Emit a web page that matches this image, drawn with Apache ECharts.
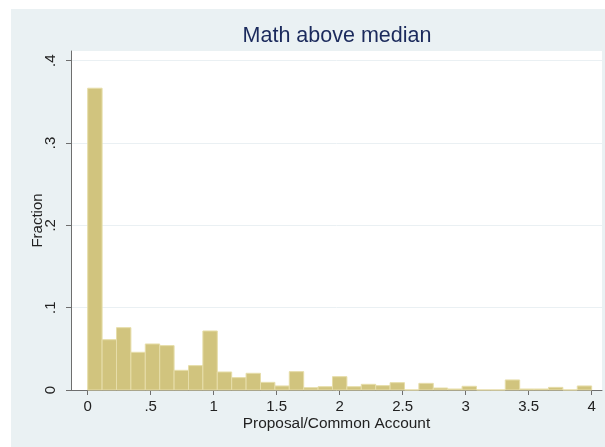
<!DOCTYPE html>
<html>
<head>
<meta charset="utf-8">
<script src="https://cdn.jsdelivr.net/npm/echarts@6/dist/echarts.min.js"></script>
<style>
  html, body { margin: 0; padding: 0; background: #ffffff; }
  #chart { width: 605px; height: 447px; }
</style>
</head>
<body>
<div id="chart"></div>
<script>
// Histogram of Proposal/Common Account, 35 equal-width bins over [0, 4]
const binStart = 0;
const binCount = 35;
const binWidth = 4 / binCount;
const fractions = [
  0.3666, 0.0611, 0.0757, 0.0458, 0.0559, 0.0539, 0.0239, 0.0296, 0.0717, 0.0219,
  0.0150, 0.0203, 0.0093, 0.0049, 0.0223, 0.0028, 0.0040, 0.0162, 0.0040, 0.0069,
  0.0053, 0.0089, 0.0000, 0.0081, 0.0024, 0.0012, 0.0045, 0.0000, 0.0000, 0.0122,
  0.0012, 0.0012, 0.0032, 0.0000, 0.0049
];
const xTicks = [0, 0.5, 1, 1.5, 2, 2.5, 3, 3.5, 4];
const yTicks = [0, 0.1, 0.2, 0.3, 0.4];
const titleText = 'Math above median';
const xName = 'Proposal/Common Account';
const yName = 'Fraction';

// Stata-style number labels: drop the leading zero (".5", ".1")
const stataNum = v => {
  const r = Math.round(v * 1000) / 1000;
  if (r === 0) return '0';
  return String(r).replace(/^0\./, '.');
};

const bins = fractions.map((f, i) => [binStart + i * binWidth, binStart + (i + 1) * binWidth, f]);

const chart = echarts.init(document.getElementById('chart'), null, { renderer: 'canvas' });
const font = '"Liberation Sans", Arial, sans-serif';

chart.setOption({
  backgroundColor: '#ffffff',
  animation: false,
  graphic: [{
    type: 'rect', left: 11, top: 9, z: -10,
    shape: { width: 594, height: 438 },
    style: { fill: '#eaf1f3' }
  }, {
    // title centred over the plot region
    type: 'text', x: 337, y: 25, z: 10,
    style: {
      text: titleText, fill: '#1b2a5c',
      font: '21.5px ' + font,
      align: 'center', verticalAlign: 'top'
    }
  }],
  grid: {
    left: 71, right: 3, top: 51, bottom: 57,
    show: true, backgroundColor: '#ffffff', borderWidth: 0
  },
  xAxis: {
    type: 'value',
    min: -0.1325, max: 4.082,
    name: xName,
    nameLocation: 'middle',
    nameGap: 26,
    nameMoveOverlap: false,
    nameTextStyle: { color: '#222', fontFamily: font, fontSize: 15.4 },
    axisLine: { show: true, onZero: false, lineStyle: { color: '#6e6e6e', width: 1 } },
    axisTick: { show: true, length: 5, customValues: xTicks, lineStyle: { color: '#6e6e6e' } },
    axisLabel: { customValues: xTicks, formatter: stataNum, margin: 9,
      color: '#222', fontFamily: font, fontSize: 15 },
    splitLine: { show: false }
  },
  yAxis: {
    type: 'value',
    min: 0, max: 0.4118,
    interval: 0.1,
    name: yName,
    nameLocation: 'middle',
    nameGap: 26,
    nameMoveOverlap: false,
    nameRotate: 90,
    nameTextStyle: { color: '#222', fontFamily: font, fontSize: 15 },
    axisLine: { show: true, onZero: false, lineStyle: { color: '#6e6e6e', width: 1 } },
    axisTick: { show: true, length: 5, customValues: yTicks, lineStyle: { color: '#6e6e6e' } },
    axisLabel: { customValues: yTicks, formatter: stataNum, rotate: 90, margin: 13,
      color: '#222', fontFamily: font, fontSize: 15 },
    splitLine: { show: true, lineStyle: { color: '#eaf0f3', width: 1 } }
  },
  series: [{
    type: 'custom',
    data: bins,
    encode: { x: [0, 1], y: 2 },
    renderItem: (params, api) => {
      const top = api.coord([api.value(0), api.value(2)]);
      const base = api.coord([api.value(1), 0]);
      return {
        type: 'rect',
        shape: { x: top[0], y: top[1], width: base[0] - top[0], height: base[1] - top[1] },
        style: { fill: '#d1c47e', stroke: '#e6dda9', lineWidth: 1 }
      };
    }
  }]
});
</script>
</body>
</html>
